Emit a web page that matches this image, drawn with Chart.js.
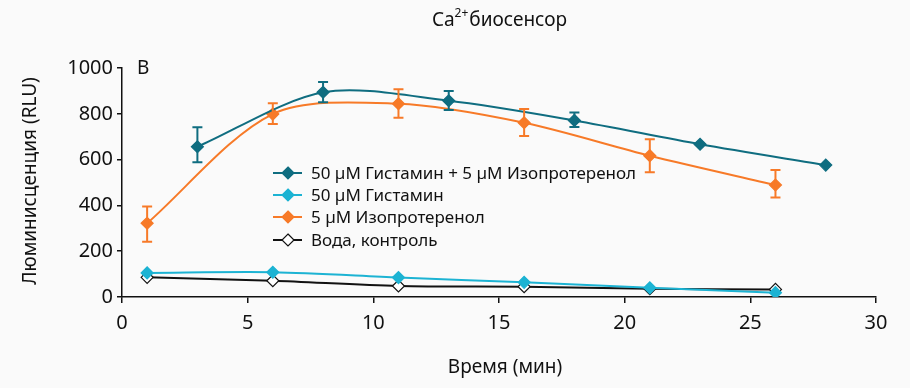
<!DOCTYPE html>
<html>
<head>
<meta charset="utf-8">
<script src="https://cdn.jsdelivr.net/npm/chart.js@4"></script>
<style>
  html, body { margin: 0; padding: 0; background: #fafafa; }
  #wrap { width: 910px; height: 388px; }
</style>
</head>
<body>
<div id="wrap"><canvas id="lumChart" width="910" height="388"></canvas></div>
<script>
// time points (min)
const timeA = [3, 8, 13, 18, 23, 28];
const timeB = [1, 6, 11, 16, 21, 26];

// 50 µM Гистамин + 5 µM Изопротеренол
const combo = [656, 894, 857, 771, 667, 576];
const comboLow = [588, 850, 817, 742, null, null];
const comboHigh = [741, 939, 900, 806, null, null];

// 50 µM Гистамин
const histamine = [105, 108, 85, 64, 40, 19];

// 5 µM Изопротеренол
const iso = [322, 799, 844, 761, 617, 489];
const isoLow = [241, 755, 783, 703, 545, 434];
const isoHigh = [395, 846, 907, 821, 689, 555];

// Вода, контроль
const water = [86, 71, 48, 45, 36, 33];

const seriesLabels = [
  "50 µM Гистамин + 5 µM Изопротеренол",
  "50 µM Гистамин",
  "5 µM Изопротеренол",
  "Вода, контроль"
];

const FONT = "'Noto Sans', sans-serif";

function toPoints(xs, ys) {
  return xs.map((x, i) => ({ x: x, y: ys[i] }));
}

// error bars, drawn through the chart's scales
const errorBars = {
  id: 'errorBars',
  afterDatasetsDraw(chart) {
    const ctx = chart.ctx;
    const xs = chart.scales.x, ys = chart.scales.y;
    const bars = [
      { t: timeA, lo: comboLow, hi: comboHigh, color: "#0f6d80" },
      { t: timeB, lo: isoLow, hi: isoHigh, color: "#f77a28" }
    ];
    ctx.save();
    ctx.lineWidth = 2;
    bars.forEach(b => {
      ctx.strokeStyle = b.color;
      b.t.forEach((t, i) => {
        if (b.lo[i] == null) return;
        const px = xs.getPixelForValue(t);
        const y1 = ys.getPixelForValue(b.lo[i]);
        const y2 = ys.getPixelForValue(b.hi[i]);
        ctx.beginPath();
        ctx.moveTo(px, y1); ctx.lineTo(px, y2);
        ctx.moveTo(px - 5, y1); ctx.lineTo(px + 5, y1);
        ctx.moveTo(px - 5, y2); ctx.lineTo(px + 5, y2);
        ctx.stroke();
      });
    });
    ctx.restore();
  }
};

// title, axis titles, panel letter and legend inside the plot
const decorations = {
  id: 'decorations',
  afterDraw(chart) {
    const ctx = chart.ctx;
    const area = chart.chartArea;
    ctx.save();
    ctx.fillStyle = "#111";
    ctx.textBaseline = "middle";
    // title with superscript
    const cx = (area.left + area.right) / 2;
    ctx.font = "19px " + FONT;
    const w1 = ctx.measureText("Ca").width;
    ctx.font = "12px " + FONT;
    const w2 = ctx.measureText("2+").width;
    ctx.font = "19px " + FONT;
    const w3 = ctx.measureText("биосенсор").width;
    let x = cx - (w1 + w2 + w3) / 2;
    ctx.textAlign = "left";
    ctx.fillText("Ca", x, 21);
    ctx.font = "12px " + FONT;
    ctx.fillText("2+", x + w1, 14);
    ctx.font = "19px " + FONT;
    ctx.fillText("биосенсор", x + w1 + w2 + 1, 21);

    ctx.font = "19px " + FONT;
    ctx.fillText("B", 137, 69);

    // axis titles
    ctx.font = "19px " + FONT;
    ctx.textAlign = "center";
    ctx.fillText("Время (мин)", 505, 368);
    ctx.save();
    ctx.translate(31, 181);
    ctx.rotate(-Math.PI / 2);
    ctx.fillText("Люминисценция (RLU)", 0, 0);
    ctx.restore();

    // legend
    ctx.textAlign = "left";
    ctx.font = "17px " + FONT;
    const rows = [173, 195, 217, 240];
    chart.data.datasets.forEach((ds, i) => {
      const y = rows[i];
      ctx.strokeStyle = ds.borderColor;
      ctx.lineWidth = 2;
      ctx.beginPath();
      ctx.moveTo(273, y); ctx.lineTo(302, y);
      ctx.stroke();
      ctx.beginPath();
      ctx.moveTo(288, y - 6); ctx.lineTo(294, y); ctx.lineTo(288, y + 6); ctx.lineTo(282, y);
      ctx.closePath();
      ctx.fillStyle = ds.pointBackgroundColor;
      ctx.fill();
      ctx.lineWidth = 1.2;
      ctx.strokeStyle = ds.pointBorderColor;
      ctx.stroke();
      ctx.fillStyle = "#111";
      ctx.fillText(ds.label, 311, y + 1);
    });
    ctx.restore();
  }
};

function makeSet(label, xs, ys, color, fill) {
  return {
    label: label,
    data: toPoints(xs, ys),
    borderColor: color,
    backgroundColor: color,
    pointBackgroundColor: fill,
    pointBorderColor: color,
    pointStyle: 'rectRot',
    pointRadius: 6,
    pointBorderWidth: 1.2,
    borderWidth: 2,
    tension: 0.3,
    fill: false
  };
}

const ctx = document.getElementById("lumChart").getContext("2d");
const chart = new Chart(ctx, {
  type: 'line',
  data: {
    datasets: [
      makeSet(seriesLabels[0], timeA, combo, "#0f6d80", "#0f6d80"),
      makeSet(seriesLabels[1], timeB, histamine, "#1cb3d3", "#1cb3d3"),
      makeSet(seriesLabels[2], timeB, iso, "#f77a28", "#f77a28"),
      makeSet(seriesLabels[3], timeB, water, "#111111", "#ffffff")
    ]
  },
  options: {
    responsive: false,
    animation: false,
    layout: { padding: { left: 0, right: 34, top: 68, bottom: 0 } },
    plugins: {
      legend: { display: false },
      title: { display: false },
      tooltip: { enabled: false }
    },
    scales: {
      x: {
        type: 'linear',
        min: 0, max: 30,
        ticks: { stepSize: 5, color: "#111", font: { family: FONT, size: 20 }, padding: 8 },
        grid: { drawOnChartArea: false, drawTicks: true, tickLength: 6, color: "#111", lineWidth: 1.5 },
        border: { color: "#111", width: 1.5 },
        afterFit(scale) { scale.height = 91; }
      },
      y: {
        min: 0, max: 1000,
        ticks: {
          stepSize: 100,
          color: "#111",
          font: { family: FONT, size: 20 },
          padding: 4,
          callback: v => (v % 200 === 0 ? String(v) : '')
        },
        grid: { drawOnChartArea: false, drawTicks: true, tickLength: 5, color: "#111", lineWidth: 1.5 },
        border: { color: "#111", width: 1.5 },
        afterFit(scale) { scale.width = 122; }
      }
    }
  },
  plugins: [errorBars, decorations]
});
</script>
</body>
</html>
